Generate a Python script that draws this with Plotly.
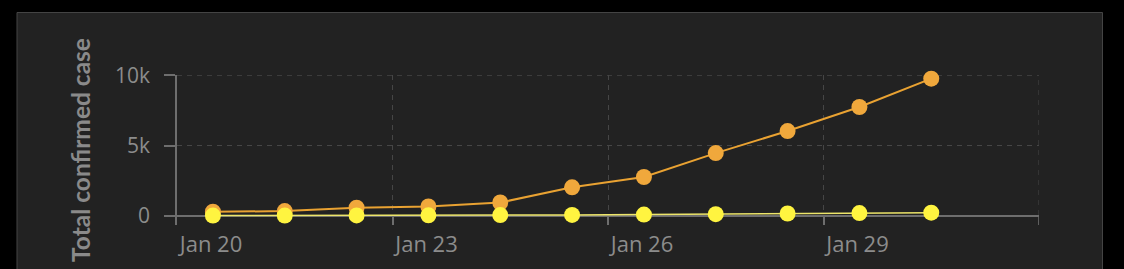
import plotly.graph_objects as go

dates = ["2020-01-20 12:00", "2020-01-21 12:00", "2020-01-22 12:00", "2020-01-23 12:00",
         "2020-01-24 12:00", "2020-01-25 12:00", "2020-01-26 12:00", "2020-01-27 12:00",
         "2020-01-28 12:00", "2020-01-29 12:00", "2020-01-30 12:00"]
confirmed = [282, 330, 570, 660, 940, 2020, 2760, 4460, 6030, 7740, 9760]
second_series = [10, 12, 20, 28, 45, 60, 85, 110, 160, 190, 220]

tick_vals = ["2020-01-20", "2020-01-23", "2020-01-26", "2020-01-29", "2020-02-01"]
tick_text = ["Jan 20", "Jan 23", "Jan 26", "Jan 29", ""]
y_ticks = [0, 5000, 10000]
y_tick_text = ["0", "5k", "10k"]

W, H = 1124, 269
L, R, T, B = 177, 85, 75, 44
pw, ph = W - L - R, H - T - B
GRID = "#464646"
AXIS = "#6e6e6e"

fig = go.Figure()
fig.add_trace(go.Scatter(
    x=dates, y=confirmed, mode="lines+markers",
    line=dict(color="#E9A232", width=2),
    marker=dict(color="#F0A83C", size=16),
    showlegend=False, cliponaxis=False))
fig.add_trace(go.Scatter(
    x=dates, y=second_series, mode="lines+markers",
    line=dict(color="#EDE56A", width=1.5),
    marker=dict(color="#FFF440", size=16),
    showlegend=False, cliponaxis=False))

# panel
fig.add_shape(type="rect", xref="paper", yref="paper", layer="below",
              x0=(17 - L) / pw, x1=(1102.5 - L) / pw,
              y0=(T + ph - 290) / ph, y1=(T + ph - 12.5) / ph,
              fillcolor="#222222", line=dict(color="#444444", width=1))
# edge gridlines that plotly clips
fig.add_shape(type="line", xref="paper", yref="y", layer="below",
              x0=0, x1=1, y0=y_ticks[-1], y1=y_ticks[-1],
              line=dict(color=GRID, width=1, dash="5px,5px"))
fig.add_shape(type="line", xref="x", yref="paper", layer="below",
              x0=tick_vals[-1], x1=tick_vals[-1], y0=0, y1=1,
              line=dict(color=GRID, width=1, dash="5px,5px"))
fig.add_shape(type="line", xref="x", yref="paper", layer="above",
              x0=tick_vals[-1], x1=tick_vals[-1], y0=0, y1=9 / ph,
              line=dict(color=AXIS, width=1.5))

fig.update_layout(
    width=W, height=H,
    margin=dict(l=L, r=R, t=T, b=B, pad=0),
    paper_bgcolor="#000000", plot_bgcolor="#222222",
    font=dict(family="'Open Sans', sans-serif", color="#8c8c8c"),
    showlegend=False,
)
fig.update_xaxes(
    type="date", range=["2020-01-20", "2020-02-01"],
    tickmode="array", tickvals=tick_vals, ticktext=tick_text,
    ticks="inside", ticklen=9, tickwidth=1.5, tickcolor=AXIS,
    ticklabelposition="outside right", ticklabelstandoff=4, ticklabelshift=2,
    tickfont=dict(size=22, color="#8c8c8c"),
    showgrid=True, gridcolor=GRID, griddash="5px,5px", gridwidth=1,
    showline=False, zeroline=False,
)
fig.update_yaxes(
    range=[-660, 10020],
    tickmode="array", tickvals=y_ticks, ticktext=y_tick_text,
    ticks="outside", ticklen=11, tickwidth=1.5, tickcolor=AXIS,
    ticklabelstandoff=10,
    tickfont=dict(size=21, color="#8c8c8c"),
    showgrid=True, gridcolor=GRID, griddash="5px,5px", gridwidth=1,
    showline=True, linecolor=AXIS, linewidth=1.5,
    zeroline=True, zerolinecolor=AXIS, zerolinewidth=2,
    title=dict(text="<b>Total confirmed case</b>",
               font=dict(family="Lato, sans-serif", size=24.5, color="#8a8a8a"), standoff=17),
)

fig.write_html("out.html")
